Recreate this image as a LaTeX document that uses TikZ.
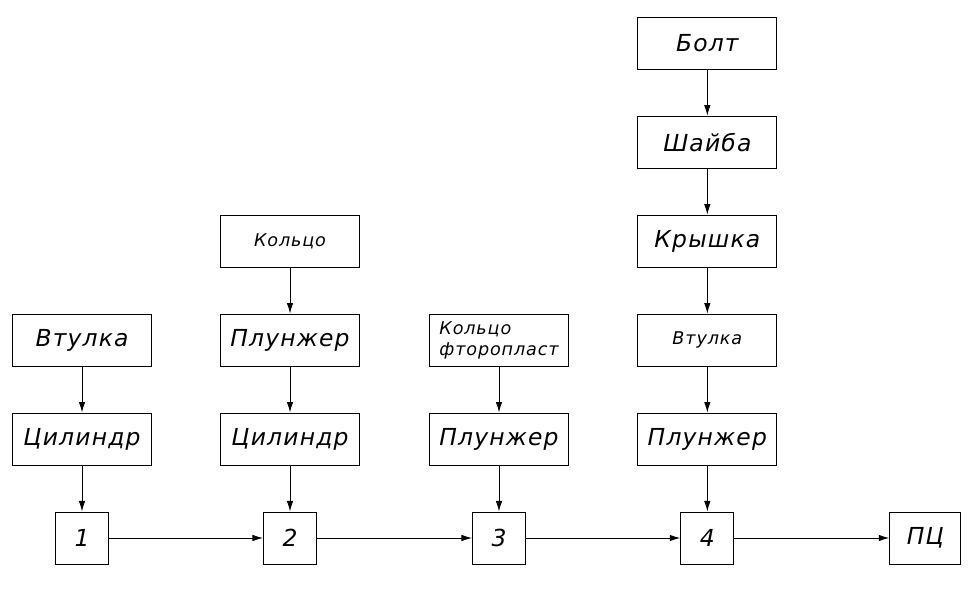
\documentclass[tikz,border=0pt]{standalone}
\usepackage{fontspec}
\setmainfont{DejaVu Sans}[LetterSpace=5]
\usepackage{tikz}
\usetikzlibrary{positioning}
\usetikzlibrary{arrows.meta}
\tikzset{part/.style={draw,minimum width=4.17cm,minimum height=1.56cm,inner sep=0pt,font=\fontsize{20}{23}\selectfont\itshape},
  small/.style={font=\fontsize{15}{18}\selectfont\itshape},
  num/.style={part,minimum width=1.59cm},}

\begin{document}
\begin{tikzpicture}[->, >={Latex[length=9pt,width=5.5pt]}, node distance=1.38cm, line width=0.8pt]
	\useasboundingbox (0,0) rectangle (29.28,17.7);
	\node[num] (n1) at (2.46,1.56) {1};
	\node[num] (n2) at (8.70,1.56) {2};
	\node[num] (n3) at (14.97,1.56) {3};
	\node[num] (n4) at (21.22,1.56) {4};
	\node[num, minimum width=2.13cm] (pc) at (27.76,1.56) {ПЦ};

	\node[part] (cyl1) [above = of n1] {Цилиндр};
	\node[part] (vt1) [above = of cyl1] {Втулка};

	\node[part] (cyl2) [above = of n2] {Цилиндр};
	\node[part] (pl2) [above = of cyl2] {Плунжер};
	\node[part, small] (kol2) [above = of pl2] {Кольцо};

	\node[part] (pl3) [above = of n3] {Плунжер};
	\node[part, small, align=left] (kol3) [above = of pl3] {Кольцо\\фторопласт};

	\node[part] (pl4) [above = of n4] {Плунжер};
	\node[part, small] (vt4) [above = of pl4] {Втулка};
	\node[part] (kr4) [above = of vt4] {Крышка};
	\node[part] (sh4) [above = of kr4] {Шайба};
	\node[part] (bolt4) [above = of sh4] {Болт};

	\path[draw]
	(vt1) edge (cyl1)
	(cyl1) edge (n1)
	(kol2) edge (pl2)
	(pl2) edge (cyl2)
	(cyl2) edge (n2)
	(kol3) edge (pl3)
	(pl3) edge (n3)
	(bolt4) edge (sh4)
	(sh4) edge (kr4)
	(kr4) edge (vt4)
	(vt4) edge (pl4)
	(pl4) edge (n4)
	(n1) edge (n2)
	(n2) edge (n3)
	(n3) edge (n4)
	(n4) edge (pc);
\end{tikzpicture}
\end{document}
